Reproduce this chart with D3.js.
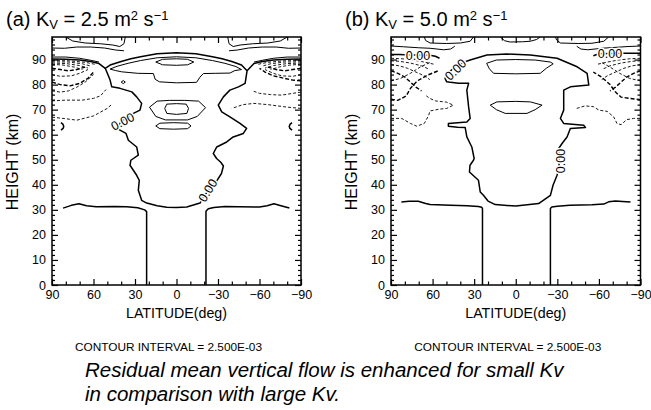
<!DOCTYPE html>
<html>
<head>
<meta charset="utf-8">
<script src="https://cdn.jsdelivr.net/npm/d3@7"></script>
<style>
body { margin: 0; background: #fff; }
svg text { font-family: "Liberation Sans", Arial, sans-serif; fill: #000; }
</style>
</head>
<body>
<div class="container"></div>
<script>
const WIDTH = 651;
const HEIGHT = 410;
const TOP = 37;
const BOTTOM = 285;

// ---- chart values ----
const panelLetters = ["(a)", "(b)"];
const kvValues = ["2.5", "5.0"];
const latTicks = [90, 60, 30, 0, -30, -60, -90];
const latMinor = [80, 70, 50, 40, 20, 10, -10, -20, -40, -50, -70, -80];
const kmTicks = [0, 10, 20, 30, 40, 50, 60, 70, 80, 90];
const kmMinor = [2, 4, 6, 8, 12, 14, 16, 18, 22, 24, 26, 28, 32, 34, 36, 38, 42, 44, 46, 48,
  52, 54, 56, 58, 62, 64, 66, 68, 72, 74, 76, 78, 82, 84, 86, 88, 92, 94, 96, 98];
const contourInterval = "2.500E-03";
const captionLines = ["Residual mean vertical flow is enhanced for small Kv",
  "in comparison with large Kv."];

// contours as [latitude, height km]; (a) Kv = 2.5
const zeroA = [
  [[82, 30.7], [76, 31.8], [70.5, 32.4], [65, 31.6], [58, 31.2], [45, 31.3], [36, 31.2], [28, 30.8], [23, 30], [21.6, 29.3], [21.6, 0]],
  [[-21.3, 0], [-21.3, 29.4], [-23, 30.4], [-27, 30.9], [-35, 31.3], [-45, 31.2], [-60, 31.1], [-65.5, 31.6], [-70.5, 32.4], [-75.5, 31.6], [-81.6, 30.7]],
  [[0, 30.9], [7, 31], [14, 31.6], [21.5, 32.7], [25.2, 33.8], [27.6, 37.8], [26.9, 41.8], [28.8, 43.8], [33.6, 47.8], [33, 49.8],
   [27.6, 51.8], [28.8, 55.1], [34.8, 57.8], [36.5, 60.5], [43.2, 62.5], [40, 65.2], [33, 68], [26.4, 69.8], [25.2, 72.5],
   [28.8, 75.1], [32.3, 77.1], [40.8, 78.5], [46.8, 79.1], [48, 81.8], [50, 84.5], [51.5, 86.5], [48, 87.8], [40, 89.2], [33, 90.3],
   [26, 91.1], [14, 92.3], [0, 92.7], [-14, 92.3], [-26, 91.1], [-33, 90.3], [-40, 89.2], [-47, 87.8], [-51, 85.5], [-49.6, 80.5],
   [-44.8, 79.1], [-38.6, 77.8], [-33.9, 75.1], [-30.2, 71.8], [-32.7, 69.1], [-38.6, 67.1], [-45.9, 64.5], [-50.7, 62.5],
   [-48.3, 60.5], [-41, 59.1], [-36.3, 57.1], [-29.1, 55.1], [-26.6, 52.5], [-29, 50.5], [-32, 49], [-33.9, 47.5], [-32.5, 44.5],
   [-29, 41.5], [-24, 38.5], [-20, 35.5], [-17, 32.7], [-7.4, 31.1], [0, 30.9]],
  [[83.5, 61.8], [82, 62.5], [81.5, 63.3], [82, 64.1], [83.5, 64.8]],
  [[-83.5, 61.8], [-82, 62.5], [-81.5, 63.3], [-82, 64.1], [-83.5, 64.8]],
  [[90, 90.2], [80, 90.1], [70, 89.8], [62, 89.2], [56, 88.4], [51.5, 86.5]],
  [[-90, 90.2], [-80, 90.1], [-70, 89.8], [-62, 89.2], [-56, 88.4], [-51, 85.5]]
];
const posA = [
  [[48, 86.2], [43, 87.3], [35, 88.5], [26, 89.6], [14, 90.7], [0, 91.1], [-14, 90.7], [-26, 89.6], [-35, 88.5], [-43, 87.2],
   [-47, 86], [-42.2, 85.6], [-38.6, 84.6], [-28, 84.5], [-19.4, 84.4], [-17, 83], [-14.5, 80.9], [0, 80.7], [12.3, 81.1],
   [15.4, 82.1], [16.7, 84.4], [28, 84.5], [39.6, 85.1], [44, 85.6], [48, 86.2]],
  [[15, 89], [10, 90.1], [0, 90.3], [-8, 90.1], [-12.5, 89], [-8, 87.9], [0, 87.7], [10, 87.9], [15, 89]],
  [[19.5, 71], [14, 73.4], [5, 73.7], [-6, 73.7], [-16, 73.4], [-21, 70.8], [-15, 67.3], [-8, 65.9], [8, 65.9], [15, 67.3], [19.5, 71]],
  [[8.5, 70.5], [7, 72.2], [0, 72.4], [-7, 72.2], [-8.7, 70.5], [-7.5, 68.5], [0, 68.1], [7, 68.5], [8.5, 70.5]],
  [[15, 63.5], [12, 64.6], [2, 64.8], [-8, 64.6], [-10.5, 63.5], [-8, 62.4], [2, 62.2], [12, 62.4], [15, 63.5]],
  [[40, 81], [38.5, 81.6], [37, 81], [38.5, 80.4], [40, 81]],
  [[80, 99], [75, 97.4], [66, 96.6], [55, 96.3], [46, 95.8], [41, 95.2], [38, 96.3], [37, 99]],
  [[-80, 99], [-75, 97.4], [-66, 96.6], [-55, 96.3], [-46, 95.8], [-41, 95.2], [-38, 96.3], [-37, 99]],
  [[90, 94.6], [81, 94.5], [72, 95], [62, 95], [52, 94.6], [44, 93.8], [38, 93.5]],
  [[-90, 94.6], [-81, 94.5], [-72, 95], [-62, 95], [-52, 94.6], [-44, 93.8], [-38, 93.5]],
  [[90, 91], [80, 91], [70, 90.5], [62, 89.7], [56, 89]],
  [[-90, 91], [-80, 91], [-70, 90.5], [-62, 89.7], [-56, 89]]
];
const negA = [
  [[90, 89.6], [78, 89.5], [66, 88.9], [58, 88]],
  [[90, 89.1], [78, 89], [68, 88.3], [62, 87.4]],
  [[90, 88.6], [80, 88.4], [70, 87.6], [64, 86.6]],
  [[90, 88.1], [82, 87.8], [74, 87], [68, 86]],
  [[90, 84], [84, 83.3], [76, 83.5], [70, 84.5], [64, 86]],
  [[90, 77.5], [84, 77], [78, 77.5], [72, 79], [66, 81], [60, 84]],
  [[90, 73.5], [80, 73.8], [68, 73.8], [60, 74.5], [55, 75.5], [51, 78]],
  [[90, 67], [82, 66.5], [72, 65.8], [60, 67.5], [50, 70.5], [47, 72]],
  [[-90, 89.6], [-78, 89.5], [-66, 88.9], [-58, 88]],
  [[-90, 89.1], [-78, 89], [-68, 88.3], [-62, 87.4]],
  [[-90, 88.6], [-80, 88.4], [-70, 87.6], [-64, 86.6]],
  [[-90, 88.1], [-82, 87.8], [-74, 87], [-68, 86]],
  [[-90, 84], [-84, 83.3], [-76, 83.5], [-70, 84.5], [-64, 86]],
  [[-90, 77], [-84, 76.5], [-76, 75.8], [-68, 76], [-60, 76.5], [-55, 77.5]],
  [[-90, 70.5], [-80, 71], [-66, 72], [-56, 72.5], [-48, 72], [-40, 70.5]]
];
const negThickA = [
  [[90, 86.5], [84, 86], [78, 85.5], [72, 86], [66, 87]],
  [[90, 81], [84, 80], [77, 79.5], [70, 80.5], [64, 82.5], [60, 85]],
  [[-90, 86.5], [-84, 86], [-78, 85.5], [-72, 86], [-66, 87]],
  [[-90, 81.5], [-84, 81.8], [-78, 82.5], [-70, 83.5], [-64, 85], [-60, 86.5]]
];
const labelsA = [[39, 65.3, -27], [-22.5, 37.8, -58]];

// (b) Kv = 5.0
const zeroB = [
  [[82.5, 33.1], [77, 33.4], [70.3, 33.4], [65, 32.5], [61.8, 32.1], [47, 31.8], [35, 31.6], [27, 31.3], [24.5, 31], [24, 30.5], [24, 0]],
  [[-25, 0], [-25, 30.5], [-26, 31.1], [-30, 31.4], [-39, 31.8], [-55, 32], [-63.5, 32.3], [-67, 33.2], [-72, 33.5], [-77, 33.3], [-82.8, 33.1]],
  [[0, 31.5], [14.8, 32.1], [20, 33.5], [23.3, 35.8], [25.6, 37.1], [26.9, 41.8], [33.4, 45.1], [33, 47.8], [30.5, 49.8], [30, 50.5],
   [31.7, 55.1], [35.3, 59.1], [36.5, 62.9], [42, 63], [48.6, 63.4], [48.6, 64.5], [42, 64.8], [35.3, 65.1], [32.9, 66.5], [34, 71.1],
   [35.3, 77.8], [34, 80.5], [41.3, 80.5], [49.8, 81.1], [51, 82.5], [49, 84.5], [43, 87.5], [36.5, 89.1], [32.9, 89.8], [20.8, 91.8],
   [6.4, 92.2], [-10.5, 91.8], [-29.8, 90.5], [-44.3, 87.1], [-51.5, 84.5], [-52.7, 79.8], [-39.4, 79.1], [-34.6, 77.8], [-34.6, 69.8],
   [-32.2, 66.5], [-34.6, 64.5], [-49, 63.8], [-50.3, 62.9], [-39.4, 62.5], [-37, 59.1], [-33.4, 56.5], [-31, 54.5], [-31.2, 50],
   [-31.2, 47], [-29.8, 43.8], [-26.9, 39.8], [-25, 35.8], [-16.5, 32.5], [0, 31.5]],
  [[90, 92], [84, 92], [76, 91.8], [68, 91.8], [62, 91.7], [58, 91.3], [55, 90.5]],
  [[-90, 92.5], [-84, 92.5], [-76, 92.5], [-68, 92.4], [-60, 92.3], [-56, 91.5]]
];
const posB = [
  [[21, 88.5], [14, 89.8], [0, 90], [-14, 89.8], [-25, 89], [-27, 88.3], [-22, 86.5], [-17.7, 84.5], [0, 84.3], [16, 84.5], [19, 86.3], [21, 88.5]],
  [[18.4, 71.8], [13.6, 73.1], [0, 73.3], [-10.5, 73.1], [-19, 71.8], [-14, 70], [-8.1, 68.5], [7.6, 68.5], [14, 70], [18.4, 71.8]],
  [[66, 99], [65, 97.6], [61.8, 96.6], [50, 96.4], [40, 96.6], [32.9, 97.3], [30.5, 99]],
  [[11.2, 99], [8, 97.5], [4, 97], [-5, 97.1], [-10.5, 97.3], [-15, 98], [-17.7, 99]],
  [[-28.6, 99], [-29.5, 97.8], [-32.2, 96.6], [-45, 96.4], [-55, 96.5], [-63.5, 97.3], [-67, 99]],
  [[90, 95.4], [81, 95.1], [70, 94.7], [61.8, 94.5], [52, 93.9], [47, 94.2], [44, 95.3]],
  [[-90, 95.4], [-81, 95.2], [-70, 94.8], [-62, 94.5], [-52, 93.9], [-47, 94.2], [-44, 95.3]]
];
const negB = [
  [[90, 90.5], [82, 90.3], [74, 89.8], [66, 89], [58, 88]],
  [[90, 89.5], [84, 89.3], [76, 88.6], [68, 87.5], [62, 86]],
  [[90, 88], [84, 87.5], [78, 86.5], [72, 85], [66, 83.5], [62, 82]],
  [[90, 81.5], [83, 82.5], [76, 84.5], [69, 87], [62, 88.8]],
  [[90, 66.5], [82.3, 66.5], [76, 64.5], [71.4, 63.4], [66, 64.5], [63, 67.5], [61.8, 69.5], [55, 70.2], [49.8, 70.5], [45, 71.8], [50, 73], [58, 73.5], [62, 74.5], [64.5, 75.5]],
  [[-90, 90.5], [-82, 90.3], [-74, 89.8], [-66, 89], [-58, 88]],
  [[-90, 89.5], [-84, 89.3], [-76, 88.6], [-68, 87.5], [-62, 86]],
  [[-90, 88], [-84, 87.5], [-78, 86.5], [-72, 85], [-66, 83.5], [-62, 82]],
  [[-90, 81.5], [-82, 82.5], [-75, 84.5], [-68, 87], [-62, 88.8]],
  [[-44, 70.5], [-50, 71.5], [-56, 71.2], [-60, 69.8], [-66, 69.3], [-70.8, 67], [-73, 64.5], [-76, 64], [-80, 66], [-85, 66.5], [-90, 66.5]]
];
const negThickB = [
  [[90, 85.5], [85, 84.5], [80, 83], [76, 81], [72, 79], [68, 77.5]],
  [[90, 74.2], [85, 73.7], [79, 75.5], [76, 78.5], [71, 81.5], [64, 83.7], [56, 85.5]],
  [[-90, 85.5], [-85, 84.5], [-80, 83], [-76, 81], [-72, 79], [-68, 77.5]],
  [[-90, 74], [-82, 74.5], [-76, 75], [-72, 77], [-68, 80], [-62, 83], [-56, 85]]
];
const labelsB = [[70.5, 91.8, 0], [-68, 92.6, 0], [43.5, 86, -45], [-32.2, 49.5, -90]];

// ---- layout ----
const PANELS = [
  {left: 52, right: 301, titleX: 6, zero: zeroA, pos: posA, neg: negA, negThick: negThickA, labels: labelsA},
  {left: 391, right: 640.5, titleX: 345, zero: zeroB, pos: posB, neg: negB, negThick: negThickB, labels: labelsB}
];

var svg = d3.select('.container').append('svg')
  .attr('width', WIDTH)
  .attr('height', HEIGHT);

var drawPanel = function(p, i) {
  var x = d3.scaleLinear().domain([90, -90]).range([p.left, p.right]);
  var y = d3.scaleLinear().domain([0, 99]).range([BOTTOM, TOP]);
  var line = d3.line().x(function(d) { return x(d[0]); }).y(function(d) { return y(d[1]); });

  svg.append('clipPath').attr('id', 'clip' + i)
    .append('rect')
    .attr('x', p.left).attr('y', TOP)
    .attr('width', p.right - p.left).attr('height', BOTTOM - TOP);

  var g = svg.append('g').attr('clip-path', 'url(#clip' + i + ')');

  g.selectAll('path.neg').data(p.neg).enter().append('path')
    .attr('d', line).attr('fill', 'none').attr('stroke', '#000')
    .attr('stroke-width', 0.9).attr('stroke-dasharray', '3,2');
  g.selectAll('path.negt').data(p.negThick).enter().append('path')
    .attr('d', line).attr('fill', 'none').attr('stroke', '#000')
    .attr('stroke-width', 1.4).attr('stroke-dasharray', '4,2');
  g.selectAll('path.pos').data(p.pos).enter().append('path')
    .attr('d', line).attr('fill', 'none').attr('stroke', '#000')
    .attr('stroke-width', 1);
  g.selectAll('path.zero').data(p.zero).enter().append('path')
    .attr('d', line).attr('fill', 'none').attr('stroke', '#000')
    .attr('stroke-width', 1.5).attr('stroke-linejoin', 'round');

  g.selectAll('text.lab').data(p.labels).enter().append('text')
    .attr('transform', function(d) { return 'translate(' + x(d[0]) + ',' + y(d[1]) + ') rotate(' + d[2] + ')'; })
    .attr('text-anchor', 'middle').attr('dy', '0.36em')
    .attr('font-size', 12.5)
    .attr('stroke', '#fff').attr('stroke-width', 3).attr('paint-order', 'stroke')
    .text('0.00');

  // axes, ticks inward
  var bottomMajor = d3.axisBottom(x).tickValues(latTicks).tickSizeInner(-6).tickSizeOuter(0).tickPadding(5);
  var bottomMinor = d3.axisBottom(x).tickValues(latMinor).tickSizeInner(-3.5).tickSizeOuter(0).tickFormat('');
  var topMajor = d3.axisTop(x).tickValues(latTicks).tickSizeInner(-6).tickSizeOuter(0).tickFormat('');
  var topMinor = d3.axisTop(x).tickValues(latMinor).tickSizeInner(-3.5).tickSizeOuter(0).tickFormat('');
  var leftMajor = d3.axisLeft(y).tickValues(kmTicks).tickSizeInner(-6).tickSizeOuter(0).tickPadding(6);
  var leftMinor = d3.axisLeft(y).tickValues(kmMinor).tickSizeInner(-3).tickSizeOuter(0).tickFormat('');
  var rightMajor = d3.axisRight(y).tickValues(kmTicks).tickSizeInner(-6).tickSizeOuter(0).tickFormat('');
  var rightMinor = d3.axisRight(y).tickValues(kmMinor).tickSizeInner(-3).tickSizeOuter(0).tickFormat('');

  [[bottomMajor, 0, BOTTOM], [bottomMinor, 0, BOTTOM], [topMajor, 0, TOP], [topMinor, 0, TOP],
   [leftMajor, p.left, 0], [leftMinor, p.left, 0], [rightMajor, p.right, 0], [rightMinor, p.right, 0]]
    .forEach(function(a) {
      var ax = svg.append('g').attr('transform', 'translate(' + a[1] + ',' + a[2] + ')').call(a[0]);
      ax.select('.domain').remove();
      ax.selectAll('line').attr('stroke', '#000').attr('stroke-width', 1.2);
      ax.selectAll('text').attr('font-size', 12.5).attr('fill', '#000')
        .style('font-family', '"Liberation Sans", Arial, sans-serif');
    });

  svg.append('rect')
    .attr('x', p.left).attr('y', TOP)
    .attr('width', p.right - p.left).attr('height', BOTTOM - TOP)
    .attr('fill', 'none').attr('stroke', '#000').attr('stroke-width', 1.5);

  var cx = (p.left + p.right) / 2;

  svg.append('text')
    .attr('transform', 'translate(' + (p.left - 34) + ',' + ((TOP + BOTTOM) / 2 + 1) + ') rotate(-90)')
    .attr('text-anchor', 'middle').attr('font-size', 16)
    .text('HEIGHT (km)');

  svg.append('text')
    .attr('x', cx).attr('y', 318)
    .attr('text-anchor', 'middle').attr('font-size', 14)
    .attr('textLength', 101).attr('lengthAdjust', 'spacingAndGlyphs')
    .text('LATITUDE(deg)');

  svg.append('text')
    .attr('x', cx - 8).attr('y', 351)
    .attr('text-anchor', 'middle').attr('font-size', 11)
    .attr('textLength', 187).attr('lengthAdjust', 'spacingAndGlyphs')
    .text('CONTOUR INTERVAL = ' + contourInterval);

  var title = svg.append('text').attr('x', p.titleX).attr('y', 26).attr('font-size', 20);
  title.append('tspan').text(panelLetters[i] + ' K');
  title.append('tspan').attr('font-size', 13).attr('dy', 3).text('V');
  title.append('tspan').attr('dy', -3).text(' = ' + kvValues[i] + ' m');
  title.append('tspan').attr('font-size', 13).attr('dy', -6).text('2');
  title.append('tspan').attr('dy', 6).text(' s');
  title.append('tspan').attr('font-size', 13).attr('dy', -6).text('\u22121');
};

PANELS.forEach(drawPanel);

svg.selectAll('text.caption').data(captionLines).enter().append('text')
  .attr('x', 85).attr('y', function(d, i) { return 377 + i * 24; })
  .attr('font-size', 20.5).attr('font-style', 'italic')
  .text(function(d) { return d; });
</script>
</body>
</html>
